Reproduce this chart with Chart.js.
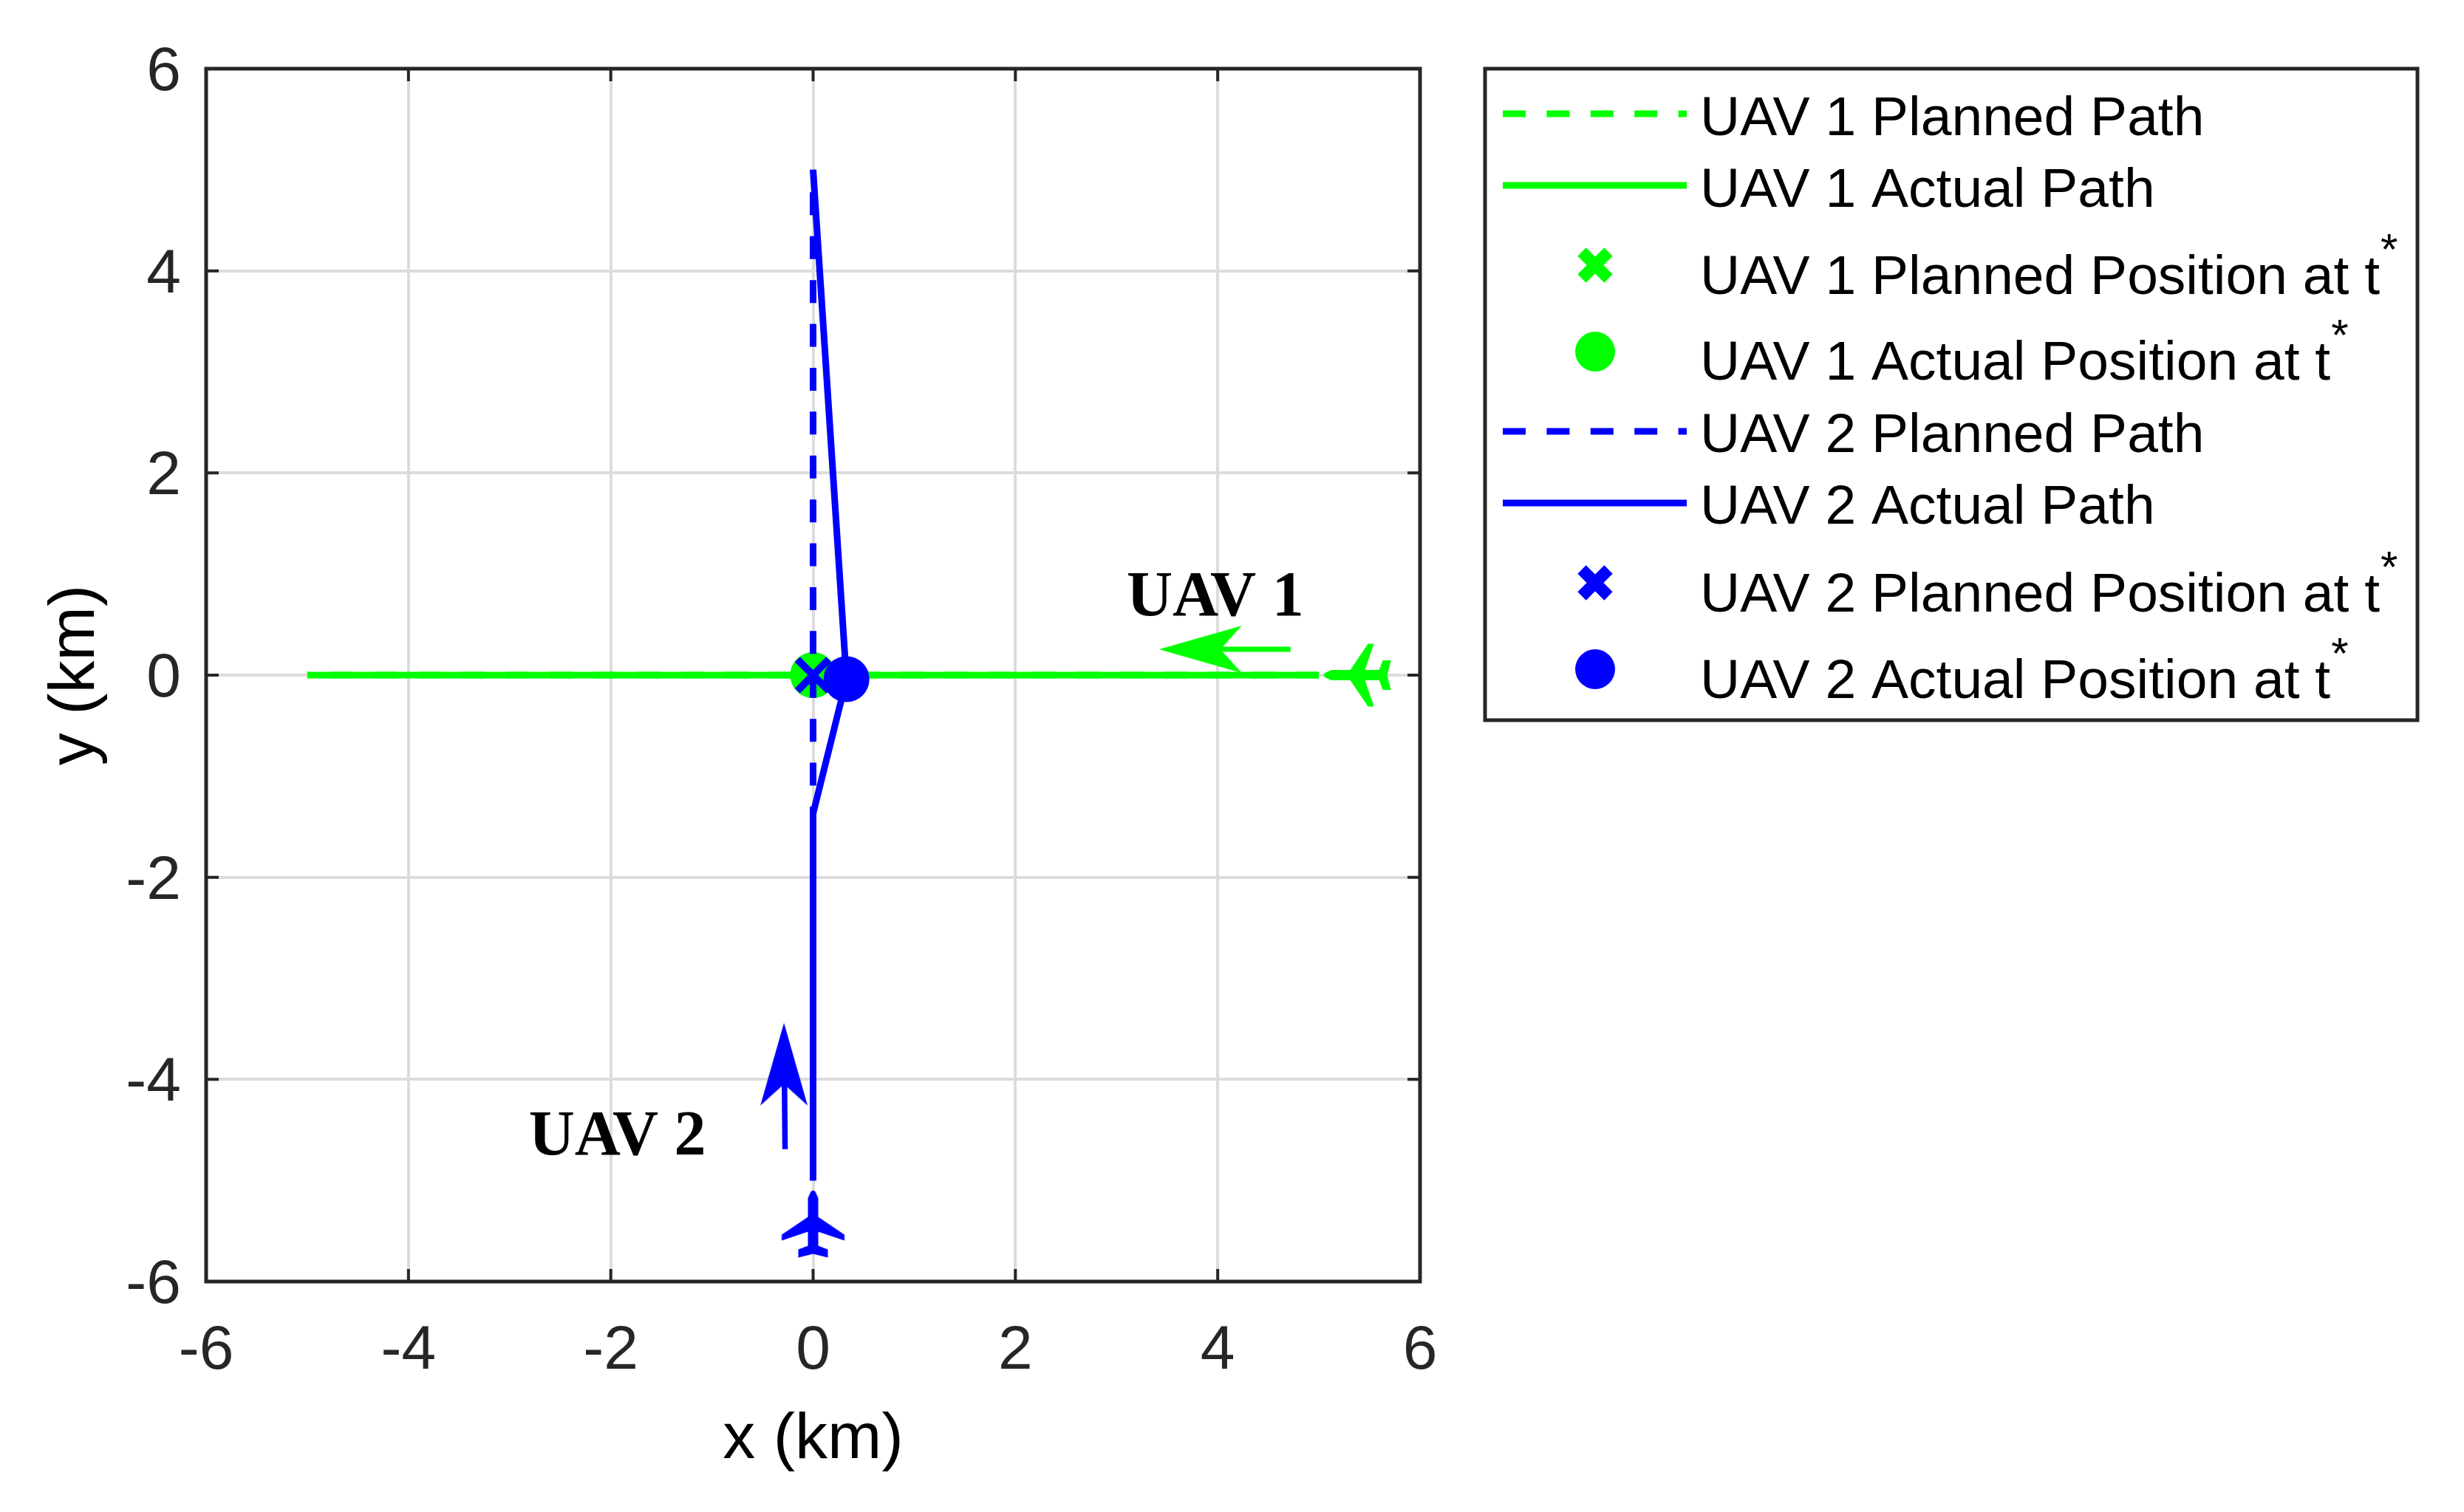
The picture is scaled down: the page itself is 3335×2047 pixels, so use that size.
<!DOCTYPE html>
<html>
<head>
<meta charset="utf-8">
<title>UAV paths</title>
<script src="https://cdn.jsdelivr.net/npm/chart.js@4"></script>
<style>
    html, body { margin: 0; background: #fff; }
    canvas { display: block; }
</style>
</head>
<body>
<canvas id="chart" width="3335" height="2047"></canvas>
<script>
/* ---------- Data ---------- */
const xTicks = [-6, -4, -2, 0, 2, 4, 6];
const yTicks = [-6, -4, -2, 0, 2, 4, 6];

const uav1PlannedX = [5, -5];
const uav1PlannedY = [0, 0];
const uav1ActualX = [5, -5];
const uav1ActualY = [0, 0];
const uav2PlannedX = [0, 0];
const uav2PlannedY = [-5, 5];
const uav2ActualX = [0, 0, 0.33, 0];
const uav2ActualY = [-5, -1.37, -0.04, 5];

const uav1PlannedAt = [0, 0];
const uav1ActualAt = [0, 0];
const uav2PlannedAt = [0, 0];
const uav2ActualAt = [0.33, -0.04];

const uav1PlaneAt = [5.38, 0];
const uav2PlaneAt = [0, -5.43];
const uav1ArrowX = [4.72, 3.7];
const uav1ArrowY = [0.255, 0.255];
const uav2ArrowX = [-0.277, -0.285];
const uav2ArrowY = [-4.69, -3.8];
const uav1ArrowTip = [3.42, 0.255];
const uav2ArrowTip = [-0.288, -3.44];

const uav1TextAt = [3.1, 0.59];
const uav2TextAt = [-2.81, -4.74];

const GREEN = "#00ff00";
const BLUE = "#0000ff";
const AXIS = "#262626";
const DASH = [31, 28.4];

const points = (xs, ys) => xs.map((x, i) => ({ x, y: ys[i] }));
const point = ([x, y]) => [{ x, y }];

/* ---------- Icons used as point styles ---------- */
function planeIcon(color) {
    const c = document.createElement("canvas");
    c.width = c.height = 100;
    const g = c.getContext("2d");
    const half = [
        [3, -44], [7, -35], [7, -9.5], [42.5, 14.5], [42.5, 22.5], [7, 10.5],
        [7, 29.5], [20, 34.5], [20, 45.5], [0, 40.5]
    ];
    g.translate(50, 50);
    g.fillStyle = color;
    g.beginPath();
    g.moveTo(0, -45.5);
    half.forEach(([x, y]) => g.lineTo(x, y));
    half.slice(0, -1).reverse().forEach(([x, y]) => g.lineTo(-x, y));
    g.closePath();
    g.fill();
    return c;
}

function arrowHead(color) {
    const c = document.createElement("canvas");
    c.width = c.height = 240;
    const g = c.getContext("2d");
    g.fillStyle = color;
    g.beginPath();
    g.moveTo(120, 120);
    g.lineTo(152, 232);
    g.lineTo(120, 203);
    g.lineTo(88, 232);
    g.closePath();
    g.fill();
    return c;
}

/* ---------- Datasets (first one listed is drawn first) ---------- */
const line = (label, data, color, dash) => ({
    label, data, showLine: true, borderColor: color, borderWidth: 9,
    borderDash: dash || [], pointRadius: 0, tension: 0
});
const marker = (label, data, color, style, radius) => ({
    label, data, pointStyle: style, pointRadius: radius, pointBorderWidth: 10,
    pointBorderColor: color, pointBackgroundColor: color, borderColor: color, backgroundColor: color
});
const icon = (data, image, rotation) => ({
    data, pointStyle: image, pointRadius: 10, pointRotation: rotation
});

const datasets = [
    line("UAV 1 Planned Path", points(uav1PlannedX, uav1PlannedY), GREEN, DASH),
    line("UAV 1 Actual Path", points(uav1ActualX, uav1ActualY), GREEN),
    marker("UAV 1 Planned Position at t", point(uav1PlannedAt), GREEN, "crossRot", 30),
    marker("UAV 1 Actual Position at t", point(uav1ActualAt), GREEN, "circle", 26),
    line("UAV 2 Planned Path", points(uav2PlannedX, uav2PlannedY), BLUE, DASH),
    line("UAV 2 Actual Path", points(uav2ActualX, uav2ActualY), BLUE),
    marker("UAV 2 Planned Position at t", point(uav2PlannedAt), BLUE, "crossRot", 30),
    marker("UAV 2 Actual Position at t", point(uav2ActualAt), BLUE, "circle", 26),
    icon(point(uav1PlaneAt), planeIcon(GREEN), -90),
    icon(point(uav2PlaneAt), planeIcon(BLUE), 0),
    { data: points(uav1ArrowX, uav1ArrowY), showLine: true, borderColor: GREEN, borderWidth: 7, pointRadius: 0 },
    { data: points(uav2ArrowX, uav2ArrowY), showLine: true, borderColor: BLUE, borderWidth: 7.5, pointRadius: 0 },
    icon(point(uav1ArrowTip), arrowHead(GREEN), -90),
    icon(point(uav2ArrowTip), arrowHead(BLUE), 0)
];
datasets.forEach((d, i) => { d.order = datasets.length - i; });

/* ---------- Box and inward ticks ---------- */
const boxPlugin = {
    id: "box",
    beforeDatasetsDraw(chart) {
        const { ctx, chartArea: a, scales } = chart;
        ctx.save();
        ctx.strokeStyle = AXIS;
        ctx.lineWidth = 4;
        ctx.beginPath();
        scales.x.ticks.forEach(t => {
            const x = scales.x.getPixelForValue(t.value);
            ctx.moveTo(x, a.bottom); ctx.lineTo(x, a.bottom - 17);
            ctx.moveTo(x, a.top); ctx.lineTo(x, a.top + 17);
        });
        scales.y.ticks.forEach(t => {
            const y = scales.y.getPixelForValue(t.value);
            ctx.moveTo(a.left, y); ctx.lineTo(a.left + 17, y);
            ctx.moveTo(a.right, y); ctx.lineTo(a.right - 17, y);
        });
        ctx.stroke();
        ctx.lineWidth = 5;
        ctx.strokeRect(a.left, a.top, a.right - a.left, a.bottom - a.top);
        ctx.restore();
    }
};

/* ---------- UAV labels ---------- */
const textPlugin = {
    id: "uavText",
    afterDatasetsDraw(chart) {
        const { ctx, scales } = chart;
        ctx.save();
        ctx.fillStyle = "#000";
        ctx.font = 'bold 86px "Liberation Serif"';
        ctx.textBaseline = "alphabetic";
        ctx.fillText("UAV 1", scales.x.getPixelForValue(uav1TextAt[0]), scales.y.getPixelForValue(uav1TextAt[1]));
        ctx.fillText("UAV 2", scales.x.getPixelForValue(uav2TextAt[0]), scales.y.getPixelForValue(uav2TextAt[1]));
        ctx.restore();
    }
};

/* ---------- Legend (rows are not evenly spaced, t has a superscript) ---------- */
const legendBox = { left: 2010, top: 93, right: 3272, bottom: 975 };
const legendSwatchY = [154, 251, 359, 476, 584, 681, 789, 906];
const legendTextY = [183, 280, 398, 514, 612, 709, 828, 945];

const legendPlugin = {
    id: "sideLegend",
    afterDraw(chart) {
        const { ctx } = chart;
        ctx.save();
        ctx.fillStyle = "#fff";
        ctx.strokeStyle = AXIS;
        ctx.lineWidth = 5;
        ctx.fillRect(legendBox.left, legendBox.top, legendBox.right - legendBox.left, legendBox.bottom - legendBox.top);
        ctx.strokeRect(legendBox.left, legendBox.top, legendBox.right - legendBox.left, legendBox.bottom - legendBox.top);

        datasets.slice(0, 8).forEach((d, i) => {
            const y = legendSwatchY[i];
            ctx.textBaseline = "alphabetic";
            if (d.showLine) {
                ctx.strokeStyle = d.borderColor;
                ctx.lineWidth = 9;
                ctx.setLineDash(d.borderDash);
                ctx.beginPath();
                ctx.moveTo(2034, y);
                ctx.lineTo(2283, y);
                ctx.stroke();
                ctx.setLineDash([]);
            } else if (d.pointStyle === "circle") {
                ctx.fillStyle = d.backgroundColor;
                ctx.beginPath();
                ctx.arc(2159, y, 27, 0, Math.PI * 2);
                ctx.fill();
            } else {
                ctx.strokeStyle = d.borderColor;
                ctx.lineWidth = 16;
                ctx.beginPath();
                ctx.moveTo(2159 - 18, y - 18); ctx.lineTo(2159 + 18, y + 18);
                ctx.moveTo(2159 + 18, y - 18); ctx.lineTo(2159 - 18, y + 18);
                ctx.stroke();
            }
            ctx.fillStyle = "#000";
            ctx.font = '75px "Liberation Sans"';
            ctx.fillText(d.label, 2301, legendTextY[i]);
            if (d.label.endsWith(" t")) {
                const end = 2301 + ctx.measureText(d.label).width;
                ctx.font = '60px "Liberation Sans"';
                ctx.fillText("*", end + 1, legendTextY[i] - 40);
            }
        });
        ctx.restore();
    }
};

/* ---------- Chart ---------- */
const axis = (title, ticks, fit, tickPadding, labelOffset, titlePadding) => ({
    type: "linear",
    min: -6,
    max: 6,
    afterBuildTicks: scale => { scale.ticks = ticks.map(value => ({ value })); },
    afterFit: fit,
    grid: { color: "#dcdcdc", lineWidth: 4, drawTicks: false },
    border: { display: false },
    ticks: {
        color: AXIS,
        font: { family: "Liberation Sans", size: 84 },
        padding: tickPadding,
        labelOffset,
        maxRotation: 0,
        autoSkip: false
    },
    title: {
        display: true,
        text: title,
        color: "#000",
        font: { family: "Liberation Sans", size: 88 },
        padding: titlePadding
    }
});

new Chart(document.getElementById("chart"), {
    type: "scatter",
    data: { datasets },
    options: {
        responsive: false,
        devicePixelRatio: 1,
        animation: false,
        layout: { autoPadding: false, padding: { top: 93, right: 1413, bottom: 0, left: 0 } },
        plugins: { legend: { display: false }, tooltip: { enabled: false } },
        scales: {
            x: axis("x (km)", xTicks, s => { s.height = 312; }, 44, 0, { top: 44, bottom: 44 }),
            y: axis("y (km)", yTicks, s => { s.width = 279; }, 34, 6, { top: 50, bottom: 50 })
        }
    },
    plugins: [boxPlugin, textPlugin, legendPlugin]
});
</script>
</body>
</html>
